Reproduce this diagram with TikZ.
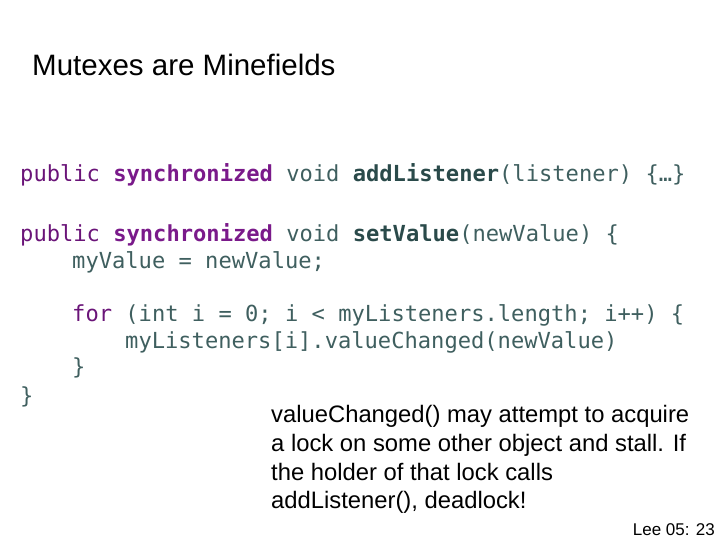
\documentclass[tikz,border=0pt]{standalone}
\usepackage{fontspec}
\setmainfont{Liberation Sans}
\setmonofont{DejaVu Sans Mono}
\definecolor{kw}{HTML}{6A1478}
\definecolor{kwb}{HTML}{7A1A8A}
\definecolor{cd}{HTML}{3F5F5F}
\definecolor{fn}{HTML}{2A4A4A}
\begin{document}
\begin{tikzpicture}[x=1pt,y=-1pt,
  code/.style={anchor=base west,inner sep=0pt,font=\ttfamily\fontsize{22.1}{24}\selectfont,text=cd},
  prose/.style={anchor=base west,inner sep=0pt,font=\fontsize{23.8}{26}\selectfont}]
\useasboundingbox (0,0) rectangle (720,540);
\node[anchor=base west,inner sep=0pt,font=\fontsize{29.5}{32}\selectfont] (title) at (32,76) {Mutexes are Minefields};
\newcommand{\kwp}{\textcolor{kw}{public} \textcolor{kwb}{\bfseries synchronized} void }
\node[code] (l1) at (20,182) {\kwp\textcolor{fn}{\bfseries addListener}(listener) \{…\}};
\node[code] (l2) at (20,241) {\kwp\textcolor{fn}{\bfseries setValue}(newValue) \{};
\node[code] (l3) at (72,268) {myValue = newValue;};
\node[code] (l4) at (72,321) {\textcolor{kw}{for} (int i = 0; i < myListeners.length; i++) \{};
\node[code] (l5) at (125,348) {myListeners[i].valueChanged(newValue)};
\node[code] (l6) at (72,374) {\}};
\node[code] (l7) at (20,403) {\}};
\node[prose] (p1) at (271,422) {valueChanged() may attempt to acquire};
\node[prose] (p2) at (271,451) {a lock on some other object and stall. If};
\node[prose] (p3) at (271,480) {the holder of that lock calls};
\node[prose] (p4) at (271,508) {addListener(), deadlock!};
\node[anchor=base east,inner sep=0pt,font=\fontsize{17}{19}\selectfont] (pg) at (715,535) {Lee 05: 23};
\end{tikzpicture}
\end{document}
